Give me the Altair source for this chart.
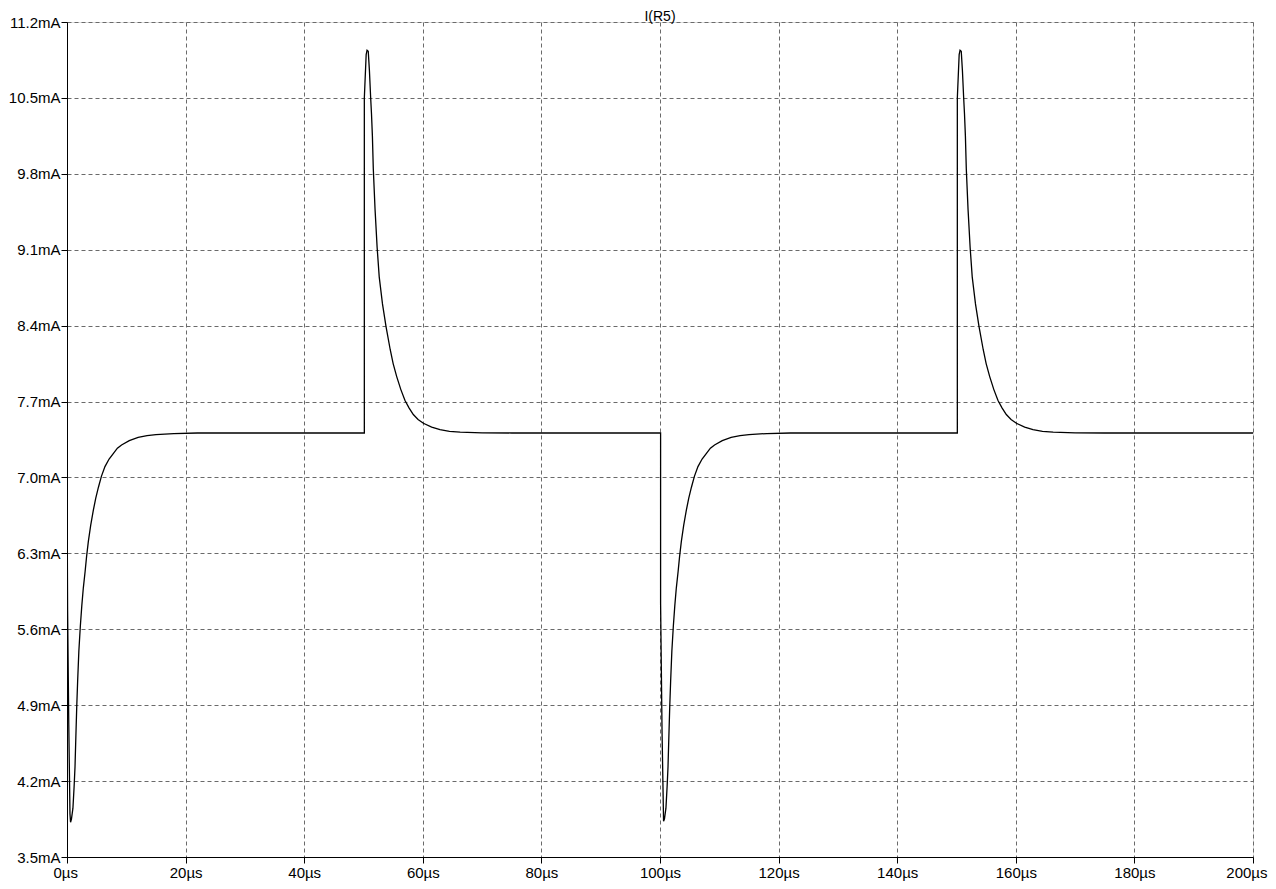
import altair as alt
import pandas as pd

# Time in microseconds
time_us = [
    0.0, 0.1, 0.3, 0.5, 0.6, 0.75, 1.0, 1.2, 1.35, 1.5, 1.65, 1.8, 2.0, 2.25, 2.5,
    2.75, 3.05, 3.3, 3.6, 4.0, 4.45, 4.85, 5.3, 5.8, 6.4, 7.1, 7.8, 8.5, 9.2,
    10.5, 12.0, 13.5, 15.0, 18.0, 22.0,
    50.14, 50.14, 50.45, 50.6, 50.8, 51.0, 51.2, 51.35, 51.5, 51.65, 51.95,
    52.3, 52.65, 53.2, 53.8, 54.5, 55.0, 55.6, 56.3, 57.0, 57.7, 58.4, 59.2,
    60.1, 61.5, 62.9, 64.5, 66.3, 70.0, 75.0,
    100.1, 100.1, 100.35, 100.6, 100.75, 101.0, 101.2, 101.35, 101.5, 101.65,
    101.8, 102.0, 102.25, 102.5, 102.75, 103.05, 103.3, 103.6, 104.0, 104.45,
    104.85, 105.3, 105.8, 106.4, 107.1, 107.8, 108.5, 109.2, 110.5, 112.0,
    113.5, 115.0, 118.0, 122.0,
    150.14, 150.14, 150.45, 150.6, 150.8, 151.0, 151.2, 151.35, 151.5, 151.65,
    151.95, 152.3, 152.65, 153.2, 153.8, 154.5, 155.0, 155.6, 156.3, 157.0,
    157.7, 158.4, 159.2, 160.1, 161.5, 162.9, 164.5, 166.3, 170.0, 175.0,
    200.0,
]

# Current I(R5) in mA
current_ma = [
    7.00, 5.78, 4.72, 3.90, 3.82, 3.85, 3.95, 4.15, 4.33, 4.62, 4.90, 5.13, 5.40,
    5.63, 5.82, 5.98, 6.13, 6.27, 6.41, 6.56, 6.70, 6.81, 6.91, 7.01, 7.10, 7.17,
    7.22, 7.27, 7.30, 7.34, 7.37, 7.385, 7.395, 7.405, 7.41,
    7.41, 10.50, 10.90, 10.94, 10.93, 10.75, 10.51, 10.35, 10.15, 9.85, 9.47,
    9.12, 8.85, 8.60, 8.39, 8.18, 8.05, 7.93, 7.81, 7.71, 7.64, 7.58, 7.535,
    7.50, 7.465, 7.44, 7.425, 7.418, 7.412, 7.41,
    7.41, 5.84, 4.64, 3.83, 3.85, 3.95, 4.15, 4.33, 4.62, 4.90, 5.13, 5.40,
    5.63, 5.82, 5.98, 6.13, 6.27, 6.41, 6.56, 6.70, 6.81, 6.91, 7.01, 7.10,
    7.17, 7.22, 7.27, 7.30, 7.34, 7.37, 7.385, 7.395, 7.405, 7.41,
    7.41, 10.50, 10.90, 10.94, 10.93, 10.75, 10.51, 10.35, 10.15, 9.85, 9.47,
    9.12, 8.85, 8.60, 8.39, 8.18, 8.05, 7.93, 7.81, 7.71, 7.64, 7.58, 7.535,
    7.50, 7.465, 7.44, 7.425, 7.418, 7.412, 7.41,
    7.41,
]

x_ticks = [0, 20, 40, 60, 80, 100, 120, 140, 160, 180, 200]
y_ticks = [3.5, 4.2, 4.9, 5.6, 6.3, 7.0, 7.7, 8.4, 9.1, 9.8, 10.5, 11.2]

df = pd.DataFrame({"t": time_us, "i": current_ma, "order": list(range(len(time_us)))})

FONT = "Liberation Sans"
GRID = "#6a6a6a"

line = alt.Chart(df).mark_line(color="black", strokeWidth=1.3, clip=True).encode(
    x=alt.X(
        "t:Q",
        scale=alt.Scale(domain=[0, 200], nice=False, zero=False),
        axis=alt.Axis(
            values=x_ticks,
            title=None,
            labelExpr="datum.value + 'µs'",
            labelFlush=True,
            labelFlushOffset=14,
            labelOverlap=False,
            labelFont=FONT,
            labelFontSize=15,
            labelColor="black",
            labelPadding=2,
            tickSize=6,
            tickColor="black",
            domainColor="black",
            grid=True,
            gridColor=GRID,
            gridDash=[4, 3],
            gridWidth=1,
        ),
    ),
    y=alt.Y(
        "i:Q",
        scale=alt.Scale(domain=[3.5, 11.2], nice=False, zero=False),
        axis=alt.Axis(
            values=y_ticks,
            title=None,
            labelExpr="format(datum.value, '.1f') + 'mA'",
            labelFlush=False,
            labelOverlap=False,
            labelFont=FONT,
            labelFontSize=15,
            labelColor="black",
            labelPadding=1,
            tickSize=6,
            tickColor="black",
            domainColor="black",
            grid=True,
            gridColor=GRID,
            gridDash=[4, 3],
            gridWidth=1,
        ),
    ),
    order="order:Q",
)

chart = line.properties(
    width=1186,
    height=835,
    title=alt.TitleParams(
        "I(R5)",
        font=FONT,
        fontSize=14,
        fontWeight="normal",
        color="black",
        anchor="middle",
        frame="group",
        baseline="bottom",
        offset=-23,
    ),
    autosize=alt.AutoSizeParams(type="none"),
    padding={"left": 59, "top": 14, "right": 15, "bottom": 24},
).configure_view(stroke="black", strokeWidth=1).configure(background="white")

chart.save("out.html", embed_options={"renderer": "svg", "actions": False})
